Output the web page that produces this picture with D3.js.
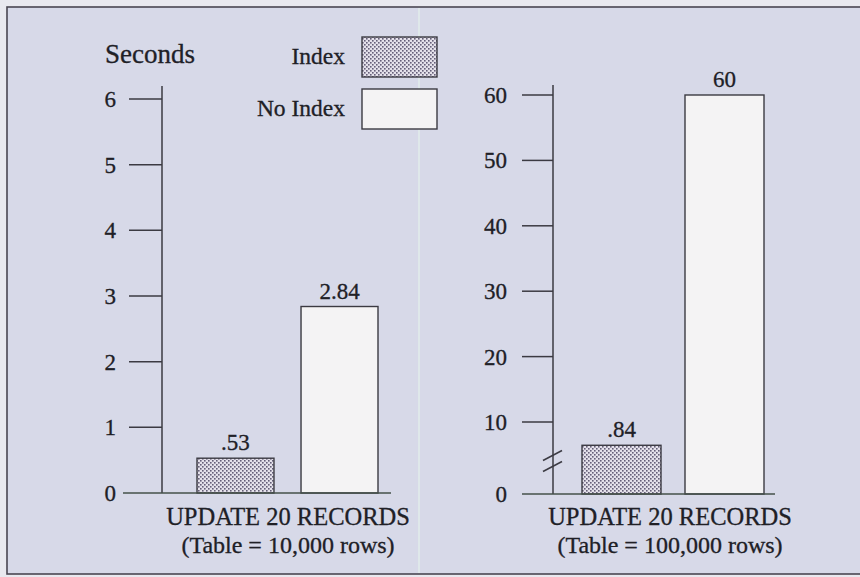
<!DOCTYPE html>
<html>
<head>
<meta charset="utf-8">
<script src="https://cdn.jsdelivr.net/npm/d3@7/dist/d3.min.js"></script>
<style>
  html, body { margin: 0; padding: 0; background: #e9e9ef; }
  svg { display: block; }
  text { font-family: "Liberation Serif", "DejaVu Serif", serif; fill: #202026; stroke: #202026; stroke-width: 0.3; }
</style>
</head>
<body>
<svg id="chart" width="860" height="577"></svg>
<script>
// Update timings, with and without an index
const series = ["Index", "No Index"];
const smallTableValues = [0.53, 2.84];   // seconds, 10,000-row table
const largeTableValues = [0.84, 60];     // seconds, 100,000-row table
const smallTableLabels = [".53", "2.84"];
const largeTableLabels = [".84", "60"];
const smallTicks = [0, 1, 2, 3, 4, 5, 6];
const largeTicks = [0, 10, 20, 30, 40, 50, 60];
const panelTitle = "UPDATE 20 RECORDS";
const smallSubtitle = "(Table = 10,000 rows)";
const largeSubtitle = "(Table = 100,000 rows)";
const yTitle = "Seconds";

const svg = d3.select("#chart");
const ink = "#3b3a42";

// stippled fill for the indexed bars
const defs = svg.append("defs");
const pat = defs.append("pattern")
  .attr("id", "stipple").attr("patternUnits", "userSpaceOnUse")
  .attr("width", 4).attr("height", 4);
pat.append("rect").attr("width", 4).attr("height", 4).attr("fill", "#e4e1ea");
pat.append("rect").attr("x", 0).attr("y", 0).attr("width", 1.6).attr("height", 1.6).attr("fill", "#655f78");
pat.append("rect").attr("x", 2).attr("y", 2).attr("width", 1.6).attr("height", 1.6).attr("fill", "#655f78");

const fills = { "Index": "url(#stipple)", "No Index": "#f4f3f4" };

// framed background
svg.append("rect").attr("x", 7).attr("y", 7).attr("width", 860).attr("height", 567)
  .attr("fill", "#d7d9e8").attr("stroke", "#4a4652").attr("stroke-width", 1.6);
svg.append("line").attr("x1", 419).attr("x2", 419).attr("y1", 8).attr("y2", 573)
  .attr("stroke", "#e6f2ec").attr("stroke-width", 1.5).attr("opacity", 0.8);

function panel(cfg) {
  const g = svg.append("g");
  const y = cfg.y;
  const x = d3.scaleBand().domain(series).range(cfg.barRange).paddingInner(cfg.pad);

  // axis line
  g.append("line").attr("x1", cfg.axisX).attr("x2", cfg.axisX)
    .attr("y1", cfg.axisTop).attr("y2", y(0))
    .attr("stroke", ink).attr("stroke-width", 1.5);

  // ticks and labels
  const ticks = g.selectAll(".tick").data(cfg.ticks).join("g");
  ticks.filter(d => d !== 0).append("line")
    .attr("x1", cfg.tickX0).attr("x2", cfg.axisX)
    .attr("y1", d => y(d)).attr("y2", d => y(d))
    .attr("stroke", ink).attr("stroke-width", 1.5);
  ticks.append("text")
    .attr("x", cfg.labelX).attr("y", d => y(d)).attr("dy", "0.35em")
    .attr("text-anchor", "end").attr("font-size", 23)
    .text(d => d);

  // bars
  g.selectAll(".bar").data(cfg.values).join("rect")
    .attr("x", (d, i) => x(series[i]))
    .attr("width", x.bandwidth())
    .attr("y", d => y(d))
    .attr("height", d => y(0) - y(d))
    .attr("fill", (d, i) => fills[series[i]])
    .attr("stroke", ink).attr("stroke-width", 1.4);

  // value labels
  g.selectAll(".val").data(cfg.values).join("text")
    .attr("x", (d, i) => x(series[i]) + x.bandwidth() / 2)
    .attr("y", d => y(d) - 8)
    .attr("text-anchor", "middle").attr("font-size", 23)
    .text((d, i) => cfg.labels[i]);

  // baseline
  g.append("line").attr("x1", cfg.baseRange[0]).attr("x2", cfg.baseRange[1])
    .attr("y1", y(0)).attr("y2", y(0))
    .attr("stroke", "#44504a").attr("stroke-width", 1.6);

  // category caption
  g.append("text").attr("x", cfg.captionX).attr("y", 525)
    .attr("text-anchor", "middle").attr("font-size", 24.5).text(panelTitle);
  g.append("text").attr("x", cfg.captionX).attr("y", 553)
    .attr("text-anchor", "middle").attr("font-size", 24).text(cfg.subtitle);
  return g;
}

// left panel: plain linear scale
panel({
  y: d3.scaleLinear().domain([0, 6]).range([493, 99]),
  ticks: smallTicks, values: smallTableValues, labels: smallTableLabels,
  axisX: 162, axisTop: 86, tickX0: 129, labelX: 116,
  barRange: [197, 378], pad: 0.26, baseRange: [123, 391],
  captionX: 288, subtitle: smallSubtitle
});

// right panel: broken axis, low range stretched below 10
const yBig = d3.scaleLinear().domain([0, 1, 10, 60]).range([494, 436, 422, 95]);
const right = panel({
  y: yBig,
  ticks: largeTicks, values: largeTableValues, labels: largeTableLabels,
  axisX: 553, axisTop: 85, tickX0: 522, labelX: 507,
  barRange: [582, 764], pad: 0.233, baseRange: [522, 775],
  captionX: 670, subtitle: largeSubtitle
});

// break marks on the broken axis
const breakY = (yBig(0) + yBig(10)) / 2 + 3;
[-5.5, 5.5].forEach(off => {
  right.append("line")
    .attr("x1", 543).attr("x2", 562)
    .attr("y1", breakY + off + 5).attr("y2", breakY + off - 5)
    .attr("stroke", ink).attr("stroke-width", 1.5);
});

// y title
svg.append("text").attr("x", 105).attr("y", 63).attr("font-size", 27).text(yTitle);

// legend
const legend = svg.append("g");
series.forEach((s, i) => {
  const top = 37 + i * 52;
  legend.append("rect").attr("x", 362).attr("y", top).attr("width", 75).attr("height", 40)
    .attr("fill", fills[s]).attr("stroke", ink).attr("stroke-width", 1.4);
  legend.append("text").attr("x", 345).attr("y", top + 27)
    .attr("text-anchor", "end").attr("font-size", 23.5).text(s);
});
</script>
</body>
</html>
